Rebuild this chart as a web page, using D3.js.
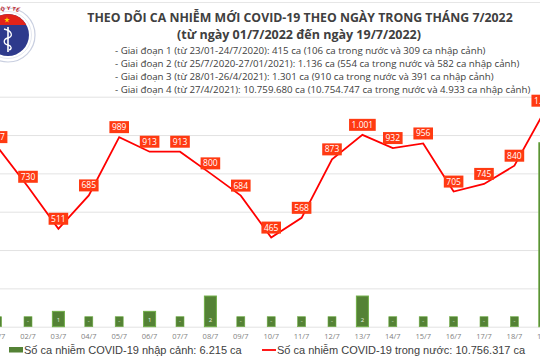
<!DOCTYPE html>
<html>
<head>
<meta charset="utf-8">
<script src="https://cdn.jsdelivr.net/npm/d3@7"></script>
<style>
  body { margin: 0; background: #fff; }
  svg { display: block; }
</style>
</head>
<body>
<script>
const days = ['01/7', '02/7', '03/7', '04/7', '05/7', '06/7', '07/7', '08/7', '09/7', '10/7',
  '11/7', '12/7', '13/7', '14/7', '15/7', '16/7', '17/7', '18/7', '19/7'];
const domestic = [937, 730, 511, 685, 989, 913, 913, 800, 684, 465, 568, 873, 1001, 932, 956, 705, 745, 840, 1127];
const imported = [0, 0, 1, 0, 0, 1, 0, 2, 0, 0, 0, 0, 2, 0, 0, 0, 0, 0, 12];
const gridTicks = [0, 200, 400, 600, 800, 1000, 1200];
const title = 'THEO DÕI CA NHIỄM MỚI COVID-19 THEO NGÀY TRONG THÁNG 7/2022';
const subtitle = '(từ ngày 01/7/2022 đến ngày 19/7/2022)';
const stages = [
  '- Giai đoạn 1 (từ 23/01-24/7/2020): 415 ca (106 ca trong nước và 309 ca nhập cảnh)',
  '- Giai đoạn 2 (từ 25/7/2020-27/01/2021): 1.136 ca (554 ca trong nước và 582 ca nhập cảnh)',
  '- Giai đoạn 3 (từ 28/01-26/4/2021): 1.301 ca (910 ca trong nước và 391 ca nhập cảnh)',
  '- Giai đoạn 4 (từ 27/4/2021): 10.759.680 ca (10.754.747 ca trong nước và 4.933 ca nhập cảnh)'
];
const legendImported = 'Số ca nhiễm COVID-19 nhập cảnh: 6.215 ca';
const legendDomestic = 'Số ca nhiễm COVID-19 trong nước: 10.756.317 ca';

const width = 540, height = 360;
const vi = d3.formatLocale({decimal: ',', thousands: '.', grouping: [3], currency: ['', '']});
const fmt = vi.format(',d');

const svg = d3.select('body').append('svg')
  .attr('width', width)
  .attr('height', height);

svg.append('line')
  .attr('x1', 0).attr('x2', width).attr('y1', 2.5).attr('y2', 2.5)
  .attr('stroke', '#e6e6e6');

// scales
const x = d3.scaleBand().domain(days).range([-17.6, 560]);
const yLine = d3.scaleLinear().domain([0, 1200]).range([326.7, 96.7]);
const yBar = d3.scaleLinear().domain([0, 15]).range([326.7, 96.7]);
const cx = d => x(d) + x.bandwidth() / 2;

// gridlines
const grid = svg.append('g')
  .call(d3.axisLeft(yLine).tickValues(gridTicks).tickSize(-width).tickFormat(''));
grid.select('.domain').remove();
grid.selectAll('line').attr('stroke', '#e3e3e3');

// logo (cropped at left edge)
const logo = svg.append('g').attr('transform', 'translate(8,35)');
logo.append('circle').attr('r', 27).attr('fill', '#fff').attr('stroke', '#c9cfe0').attr('stroke-width', 1.2);
logo.append('circle').attr('r', 23.5).attr('fill', 'none').attr('stroke', '#dde1ec').attr('stroke-width', 0.8);
logo.append('defs').append('path').attr('id', 'logoArc')
  .attr('d', 'M -25,0 A 25,25 0 0 1 25,0');
logo.append('text')
  .style('font', 'bold 5px "DejaVu Sans"').attr('fill', '#c0272d')
  .append('textPath').attr('href', '#logoArc').attr('startOffset', '50%')
  .attr('text-anchor', 'middle').text('BỘ Y TẾ');
logo.append('clipPath').attr('id', 'logoClip').append('circle').attr('r', 21);
const inner = logo.append('g').attr('clip-path', 'url(#logoClip)');
inner.append('rect').attr('x', -21).attr('y', -21).attr('width', 42).attr('height', 42).attr('fill', '#2e3a8c');
inner.append('rect').attr('x', -21).attr('y', -21).attr('width', 42).attr('height', 11).attr('fill', '#e2231a');
inner.append('path')
  .attr('d', d3.symbol(d3.symbolStar, 10)())
  .attr('transform', 'translate(-1,-15)')
  .attr('fill', '#ffd200');
inner.append('line').attr('x1', 0).attr('x2', 0).attr('y1', -8).attr('y2', 17)
  .attr('stroke', '#fff').attr('stroke-width', 1.6);
inner.append('path')
  .attr('d', 'M -4,-6 C 5,-4 5,2 0,3 C -5,4 -5,9 0,10 C 4,11 4,14 1,15')
  .attr('fill', 'none').attr('stroke', '#fff').attr('stroke-width', 1.3);

// titles
svg.append('text')
  .attr('x', 300).attr('y', 22)
  .attr('text-anchor', 'middle')
  .style('font', 'bold 12.3px "Open Sans"').attr('fill', '#404040')
  .text(title);
svg.append('text')
  .attr('x', 299).attr('y', 38.5)
  .attr('text-anchor', 'middle')
  .style('font', 'bold 12.5px "Open Sans"').attr('fill', '#404040')
  .text(subtitle);
svg.append('g').selectAll('text')
  .data(stages)
  .join('text')
  .attr('x', 115)
  .attr('y', (d, i) => 53.5 + i * 13)
  .style('font', '9.7px "Open Sans"').attr('fill', '#404040')
  .text(d => d);

// imported bars
const bars = svg.append('g');
bars.selectAll('rect')
  .data(days.map((d, i) => ({day: d, v: imported[i]})).filter(d => d.v > 0))
  .join('rect')
  .attr('x', d => cx(d.day) - 6)
  .attr('width', 12)
  .attr('y', d => yBar(d.v))
  .attr('height', d => yBar(0) - yBar(d.v))
  .attr('fill', '#548235')
  .attr('stroke', '#70ad47');
// zero markers
bars.selectAll('rect.zero')
  .data(days.filter((d, i) => imported[i] === 0))
  .join('rect')
  .attr('class', 'zero')
  .attr('x', d => cx(d) - 4)
  .attr('width', 8)
  .attr('y', yBar(0) - 10)
  .attr('height', 10)
  .attr('fill', '#548235')
  .attr('stroke', '#70ad47')
  .attr('stroke-width', 0.6);
bars.selectAll('text')
  .data(days.map((d, i) => ({day: d, v: imported[i]})))
  .join('text')
  .attr('x', d => cx(d.day))
  .attr('y', d => d.v === 0 ? yBar(0) - 3.5 : yBar(0) - 5)
  .attr('text-anchor', 'middle')
  .style('font', '6px "Open Sans"').attr('fill', '#e8f0e0')
  .text(d => d.v === 0 ? '-' : d.v);

// x axis labels
const xAxis = svg.append('g')
  .attr('transform', 'translate(0,331)')
  .call(d3.axisBottom(x).tickSize(0));
xAxis.select('.domain').remove();
xAxis.selectAll('text')
  .style('font', '7.5px "Open Sans"').attr('fill', '#7f7f7f');

// domestic line
const line = d3.line()
  .x((d, i) => cx(days[i]))
  .y(d => yLine(d));
svg.append('path')
  .datum(domestic)
  .attr('d', line)
  .attr('fill', 'none')
  .attr('stroke', '#ff0000')
  .attr('stroke-width', 1.8);

const labels = svg.append('g').selectAll('g')
  .data(domestic)
  .join('g')
  .attr('transform', (d, i) => `translate(${cx(days[i])},${yLine(d) - 10})`);
labels.append('rect').attr('class', 'box');
labels.append('text')
  .attr('text-anchor', 'middle')
  .attr('dy', '0.35em')
  .style('font', '8.5px "Open Sans"').attr('fill', '#fff')
  .text(d => fmt(d));
labels.each(function() {
  const g = d3.select(this);
  const w = g.select('text').node().getComputedTextLength() + 5;
  g.select('rect')
    .attr('x', -w / 2).attr('y', -6)
    .attr('width', w).attr('height', 12)
    .attr('fill', '#ff3a12');
});

// legend
const legend = svg.append('g');
legend.append('rect')
  .attr('x', 9).attr('y', 347).attr('width', 14).attr('height', 5.5)
  .attr('fill', '#548235');
legend.append('text')
  .attr('x', 24).attr('y', 354)
  .style('font', '11px "Liberation Sans"').attr('fill', '#404040')
  .text(legendImported);
legend.append('line')
  .attr('x1', 262).attr('x2', 276).attr('y1', 350).attr('y2', 350)
  .attr('stroke', '#ff0000').attr('stroke-width', 1.8);
legend.append('text')
  .attr('x', 277).attr('y', 354)
  .style('font', '11px "Liberation Sans"').attr('fill', '#404040')
  .text(legendDomestic);
</script>
</body>
</html>
